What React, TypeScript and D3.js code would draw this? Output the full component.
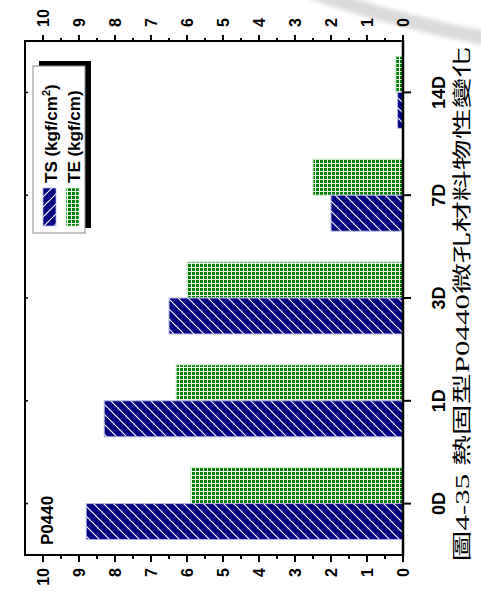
import React from "react";
import * as d3 from "d3";

// Aging series for the thermoset P0440 microporous material
const categories = ["0D", "1D", "3D", "7D", "14D"];
const tsValues = [8.8, 8.3, 6.5, 2.0, 0.15];
const teValues = [5.9, 6.3, 6.0, 2.5, 0.2];
const valueTicks = [0, 1, 2, 3, 4, 5, 6, 7, 8, 9, 10];
const sampleLabel = "P0440";
const caption = "圖4-35 熱固型P0440微孔材料物性變化";

const SANS = "'Liberation Sans', Arial, sans-serif";
const SERIF = "'Liberation Serif', 'Noto Sans CJK TC', serif";

export default function App() {
  const W = 481;
  const H = 593;
  // Plot frame (the chart is laid out turned a quarter turn counter-clockwise)
  const left = 25;
  const right = 403;
  const top = 41;
  const bottom = 555;

  const v = d3.scaleLinear().domain([0, 10.5]).range([right, left]);
  const band = d3.scaleBand<string>().domain(categories).range([bottom, top]).padding(0);
  const bw = band.bandwidth();
  const barT = bw * 0.35;
  const minorTicks = d3.range(0.5, 10.5, 1);

  const rot = (x: number, y: number) => `translate(${x},${y}) rotate(-90)`;

  const watermark = d3.path();
  watermark.moveTo(310, -8);
  watermark.quadraticCurveTo(408, 24, 490, 39);

  return (
    <svg
      width={W}
      height={H}
      viewBox={`0 0 ${W} ${H}`}
      style={{ position: "absolute", left: 0, top: 0, background: "#fff" }}
    >
      <defs>
        <pattern id="hatchBar" patternUnits="userSpaceOnUse" width={10} height={10}>
          <rect width={10} height={10} fill="#000080" />
          <path d="M-5,5 L5,15 M0,0 L10,10 M5,-5 L15,5" stroke="#ffffff" strokeWidth={1.1} />
        </pattern>
        <pattern id="hatchKey" patternUnits="userSpaceOnUse" width={10} height={10}>
          <rect width={10} height={10} fill="#000080" />
          <path d="M-5,5 L5,-5 M0,10 L10,0 M5,15 L15,5" stroke="#ffffff" strokeWidth={1.1} />
        </pattern>
        <pattern id="gridFill" patternUnits="userSpaceOnUse" width={4} height={4}>
          <rect width={4} height={4} fill="#008000" />
          <rect x={3} y={0} width={1} height={4} fill="#f2faf2" />
          <rect x={0} y={3} width={4} height={1} fill="#f2faf2" />
        </pattern>
        <filter id="soft" x="-20%" y="-50%" width="140%" height="200%">
          <feGaussianBlur stdDeviation={2} />
        </filter>
      </defs>

      {/* faint background arc */}
      <path
        d={watermark.toString()}
        fill="none"
        stroke="#dadada"
        strokeWidth={14}
        filter="url(#soft)"
      />

      {/* bars */}
      {categories.map((c, i) => {
        const cy = (band(c) as number) + bw / 2;
        return (
          <g key={c}>
            <rect
              x={v(teValues[i])}
              y={cy - barT}
              width={v(0) - v(teValues[i])}
              height={barT}
              fill="url(#gridFill)"
              stroke="#c4e4c4"
              strokeWidth={1}
            />
            <rect
              x={v(tsValues[i])}
              y={cy}
              width={v(0) - v(tsValues[i])}
              height={barT}
              fill="url(#hatchBar)"
              stroke="#b8b8e8"
              strokeWidth={1}
            />
          </g>
        );
      })}

      {/* frame */}
      <rect
        x={left}
        y={top}
        width={right - left}
        height={bottom - top}
        fill="none"
        stroke="#000"
        strokeWidth={2}
      />
      <line x1={right} x2={right} y1={top - 1} y2={bottom + 1} stroke="#000" strokeWidth={2.5} />

      {/* value ticks on both long edges */}
      {valueTicks.map((t) => (
        <g key={`vt${t}`}>
          <line x1={v(t)} x2={v(t)} y1={top} y2={top - 6} stroke="#000" strokeWidth={2} />
          <line x1={v(t)} x2={v(t)} y1={bottom} y2={bottom + 7} stroke="#000" strokeWidth={2} />
          <text
            transform={rot(v(t), 27)}
            textAnchor="start"
            dominantBaseline="central"
            fontFamily={SANS}
            fontWeight="bold"
            fontSize={16}
          >
            {t}
          </text>
          <text
            transform={rot(v(t), 568)}
            textAnchor="end"
            dominantBaseline="central"
            fontFamily={SANS}
            fontWeight="bold"
            fontSize={16}
          >
            {t}
          </text>
        </g>
      ))}
      {minorTicks.map((t) => (
        <g key={`mt${t}`}>
          <line x1={v(t)} x2={v(t)} y1={top} y2={top - 3} stroke="#000" strokeWidth={2} />
          <line x1={v(t)} x2={v(t)} y1={bottom} y2={bottom + 4} stroke="#000" strokeWidth={2} />
        </g>
      ))}

      {/* category ticks and labels */}
      {categories.map((c) => {
        const cy = (band(c) as number) + bw / 2;
        return (
          <g key={`ct${c}`}>
            <line x1={right} x2={right + 8} y1={cy} y2={cy} stroke="#000" strokeWidth={2} />
            <line x1={left} x2={left + 3} y1={cy} y2={cy} stroke="#000" strokeWidth={1.5} />
            <text
              transform={rot(439, cy)}
              textAnchor="middle"
              dominantBaseline="central"
              fontFamily={SANS}
              fontWeight="bold"
              fontSize={18}
            >
              {c}
            </text>
          </g>
        );
      })}

      {/* legend */}
      <rect x={39} y={61} width={52} height={167} fill="#000" />
      <rect x={33} y={66} width={52} height={167} fill="#fff" stroke="#888" strokeWidth={1} />
      <rect x={43} y={188} width={13} height={38} fill="url(#hatchKey)" stroke="#b8b8e8" strokeWidth={0.8} />
      <rect x={66} y={188} width={13} height={38} fill="url(#gridFill)" stroke="#c4e4c4" strokeWidth={0.8} />
      <text transform={rot(57, 183)} fontFamily={SANS} fontWeight="bold" fontSize={17}>
        TS (kgf/cm<tspan dy={-7} fontSize={11}>2</tspan>
        <tspan dy={7}>)</tspan>
      </text>
      <text transform={rot(80, 183)} fontFamily={SANS} fontWeight="bold" fontSize={17}>
        TE (kgf/cm)
      </text>

      {/* sample tag */}
      <text transform={rot(53, 545)} fontFamily={SANS} fontWeight="bold" fontSize={17}>
        {sampleLabel}
      </text>

      {/* caption */}
      <text
        transform={rot(462, 304)}
        textAnchor="middle"
        dominantBaseline="central"
        fontFamily={SERIF}
        fontSize={19}
        textLength={515}
        lengthAdjust="spacingAndGlyphs"
      >
        {caption}
      </text>
    </svg>
  );
}
